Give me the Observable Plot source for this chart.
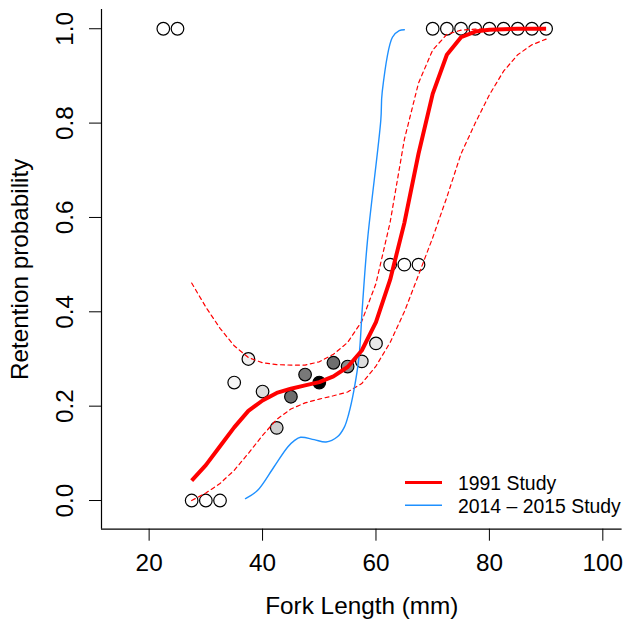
<!DOCTYPE html>
<html>
<head>
<meta charset="utf-8">
<script src="https://cdn.jsdelivr.net/npm/d3@7"></script>
<script src="https://cdn.jsdelivr.net/npm/@observablehq/plot@0.6"></script>
<style>
  body { margin: 0; background: #fff; }
  #wrap { position: relative; width: 625px; height: 624px; font-family: "Liberation Sans", Arial, Helvetica, sans-serif; }
  #legend { position: absolute; left: 0; top: 0; pointer-events: none; }
</style>
</head>
<body>
<div id="wrap"></div>
<script>
// ---- Observed retention proportions (1991 study) ----
const obsLength    = [22.5, 25, 27.5, 30, 32.5, 35, 37.5, 40, 42.5, 45, 47.5, 50, 52.5, 55, 57.5, 60, 62.5, 65, 67.5, 70, 72.5, 75, 77.5, 80, 82.5, 85, 87.5, 90];
const obsRetention = [1, 1, 0, 0, 0, 0.25, 0.3, 0.231, 0.154, 0.22, 0.267, 0.25, 0.292, 0.284, 0.295, 0.333, 0.5, 0.5, 0.5, 1, 1, 1, 1, 1, 1, 1, 1, 1];
// relative weight (shown as grey darkness of the point)
const obsWeight    = [0, 0, 0, 0, 0, 0.04, 0.06, 0.13, 0.2, 0.57, 0.53, 1, 0.57, 0.45, 0.13, 0.09, 0, 0, 0, 0, 0, 0, 0, 0, 0, 0, 0, 0];

// ---- 1991 fitted curve with confidence band ----
const fitLength = [27.5, 30, 32.5, 35, 37.5, 40, 42.5, 45, 47.5, 50, 52.5, 55, 57.5, 60, 62.5, 65, 67.5, 70, 72.5, 75, 77.5, 80, 82.5, 85, 87.5, 90];
const fit1991   = [0.042, 0.075, 0.115, 0.155, 0.19, 0.212, 0.228, 0.237, 0.244, 0.251, 0.263, 0.283, 0.318, 0.378, 0.468, 0.588, 0.735, 0.862, 0.945, 0.982, 0.994, 0.998, 0.999, 1, 1, 1];
const upper1991 = [0.461, 0.41, 0.365, 0.328, 0.303, 0.292, 0.288, 0.287, 0.287, 0.294, 0.31, 0.335, 0.38, 0.46, 0.59, 0.765, 0.885, 0.955, 0.988, 0.997, 0.999, 1, 1, 1, 1, 1];
const lower1991 = [0.0, 0.016, 0.036, 0.064, 0.1, 0.138, 0.172, 0.194, 0.207, 0.215, 0.222, 0.23, 0.248, 0.285, 0.335, 0.40, 0.478, 0.557, 0.643, 0.735, 0.80, 0.86, 0.91, 0.945, 0.966, 0.978];

// ---- 2014 - 2015 fitted curve ----
const length2014 = [37.0, 39.1, 42.0, 44.4, 45.6, 46.7, 49.1, 51.2, 53.2, 54.4, 55.2, 56.1, 57.0, 57.6, 58.5, 60.85, 61.1, 62.9, 64.1, 65.0];
const fit2014    = [0.004, 0.021, 0.071, 0.113, 0.127, 0.134, 0.129, 0.124, 0.135, 0.155, 0.184, 0.233, 0.304, 0.41, 0.551, 0.806, 0.866, 0.982, 0.996, 0.998];

// ---- axes / legend text ----
const xTicks = [20, 40, 60, 80, 100];
const yTicks = [0, 0.2, 0.4, 0.6, 0.8, 1.0];
const xTitle = "Fork Length (mm)";
const yTitle = "Retention probability";
const legendLabels = ["1991 Study", "2014 \u2013 2015 Study"];
const legendColors = ["#ff0000", "#1e90ff"];
const legendWidths = [3.2, 1.4];

const xDomain = [11.6, 103.4];
const yDomain = [-0.0608, 1.0408];

// build tables from the arrays
const obs = obsLength.map((x, i) => ({x, y: obsRetention[i], w: obsWeight[i]}));
const fit = fitLength.map((x, i) => ({x, fit: fit1991[i], upper: upper1991[i], lower: lower1991[i]}));
const recent = length2014.map((x, i) => ({x, y: fit2014[i]}));

const fontFamily = '"Liberation Sans", Arial, Helvetica, sans-serif';
const fs = 24.3;

const chart = Plot.plot({
  width: 625,
  height: 624,
  marginLeft: 101,
  marginRight: 3.4,
  marginTop: 9,
  marginBottom: 95.3,
  style: {background: "#fff", fontFamily, color: "#000", overflow: "visible"},
  x: {domain: xDomain},
  y: {domain: yDomain},
  color: {type: "linear", domain: [0, 1], range: ["#ffffff", "#000000"], interpolate: "rgb"},
  marks: [
    // L-shaped box
    Plot.ruleX([xDomain[0]], {stroke: "#000", strokeWidth: 1.2}),
    Plot.ruleY([yDomain[0]], {stroke: "#000", strokeWidth: 1.2}),
    // axes
    Plot.axisX(xTicks, {tickSize: 12, tickPadding: 12.5, fontSize: fs, label: null, tickFormat: d => String(d)}),
    Plot.axisY(yTicks, {tickSize: 12, tickFormat: () => "", label: null}),
    Plot.text(yTicks, {y: d => d, text: d => d3.format(".1f")(d), frameAnchor: "left", rotate: -90,
      textAnchor: "middle", lineAnchor: "bottom", dx: -29, fontSize: fs, fill: "#000"}),
    Plot.text([yTitle], {text: d => d, frameAnchor: "left", rotate: -90,
      textAnchor: "middle", lineAnchor: "bottom", dx: -74, fontSize: fs, fill: "#000"}),
    Plot.text([xTitle], {text: d => d, frameAnchor: "bottom", lineAnchor: "bottom", dy: 85, fontSize: fs, fill: "#000"}),
    // observed points
    Plot.dot(obs, {x: "x", y: "y", r: 6.3, fill: "w", stroke: "#000", strokeWidth: 1.2}),
    // confidence band
    Plot.line(fit, {x: "x", y: "upper", stroke: "#ff0000", strokeWidth: 1.2, strokeDasharray: "4,3.5"}),
    Plot.line(fit, {x: "x", y: "lower", stroke: "#ff0000", strokeWidth: 1.2, strokeDasharray: "4,3.5"}),
    // 2014-2015 curve
    Plot.line(recent, {x: "x", y: "y", stroke: legendColors[1], strokeWidth: 1.4, curve: "catmull-rom"}),
    // 1991 fit
    Plot.line(fit, {x: "x", y: "fit", stroke: legendColors[0], strokeWidth: 4, strokeLinejoin: "round", strokeLinecap: "butt"})
  ]
});

const wrap = document.getElementById("wrap");
wrap.appendChild(chart);

// legend overlay (no box), bottom-right inside plot area
const leg = d3.select(wrap).append("svg")
  .attr("id", "legend")
  .attr("width", 625).attr("height", 624);
const rows = leg.selectAll("g").data(legendLabels).join("g")
  .attr("transform", (d, i) => `translate(0, ${482.5 + i * 22.8})`);
rows.append("line")
  .attr("x1", 405).attr("x2", 442).attr("y1", 0).attr("y2", 0)
  .attr("stroke", (d, i) => legendColors[i])
  .attr("stroke-width", (d, i) => legendWidths[i]);
rows.append("text")
  .attr("x", 458).attr("y", 7.3)
  .attr("font-family", fontFamily)
  .attr("font-size", 19.4)
  .attr("fill", "#000")
  .text(d => d);
</script>
</body>
</html>
